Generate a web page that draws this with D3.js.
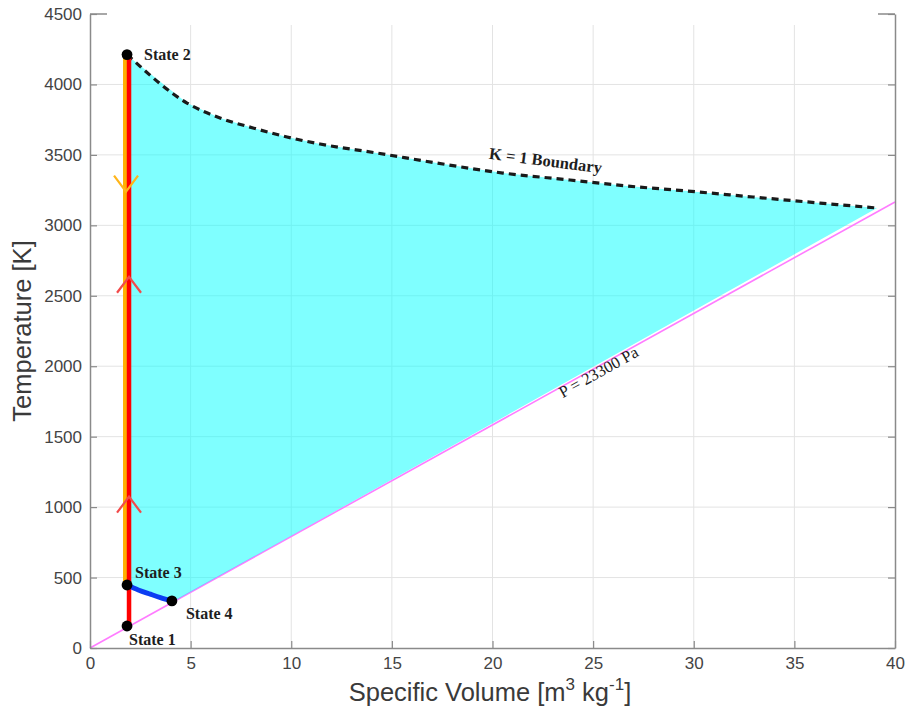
<!DOCTYPE html>
<html>
<head>
<meta charset="utf-8">
<script src="https://cdn.jsdelivr.net/npm/d3@7/dist/d3.min.js"></script>
<style>
  html, body { margin: 0; padding: 0; background: #fff; }
  svg { display: block; }
</style>
</head>
<body>
<svg id="chart" width="907" height="715"></svg>
<script>
// Cycle states: specific volume [m3/kg] and temperature [K]
const stateNames = ["State 1", "State 2", "State 3", "State 4"];
const stateV = [1.84, 1.84, 1.84, 4.07];
const stateT = [156, 4212, 447, 334];

// K = 1 boundary (dashed), from State 2 to the isobar
const boundaryV = [1.84, 2.14, 4.82, 6.46, 8.10, 9.79, 11.43, 14.26, 17.24, 20.52, 23.85, 26.68, 29.66, 32.94, 36.27, 39.11];
const boundaryT = [4212, 4173, 3868, 3762, 3691, 3627, 3577, 3513, 3442, 3371, 3322, 3279, 3244, 3201, 3158, 3123];

// Isobar P = 23300 Pa (straight line through the origin)
const isobarV = [0, 40];
const isobarT = [0, 3166];

// Expansion from State 3 to State 4
const expV = [1.84, 2.4, 3.0, 3.5, 4.07];
const expT = [447, 412, 382, 358, 334];

// Direction chevrons on the vertical legs
const upArrowT = [2635, 1074];   // red leg, pointing up
const downArrowT = [3239];       // orange leg, pointing down

const xTicks = [0, 5, 10, 15, 20, 25, 30, 35, 40];
const yTicks = [0, 500, 1000, 1500, 2000, 2500, 3000, 3500, 4000, 4500];

(function draw() {
const svg = d3.select("#chart");
const pL = 90, pR = 895, pT = 14, pB = 648;

const x = d3.scaleLinear().domain([0, 40]).range([pL, pR]);
const y = d3.scaleLinear().domain([0, 4500]).range([pB, pT]);

// grid
const grid = svg.append("g").attr("stroke", "#e3e3e3").attr("stroke-width", 1);
grid.selectAll("line.vx").data(xTicks.slice(1, -1)).join("line")
  .attr("x1", d => x(d)).attr("x2", d => x(d)).attr("y1", pT).attr("y2", pB);
grid.selectAll("line.hy").data(yTicks.slice(1, -1)).join("line")
  .attr("y1", d => y(d)).attr("y2", d => y(d)).attr("x1", pL).attr("x2", pR);

const line = d3.line().x(d => x(d[0])).y(d => y(d[1]));
const smooth = d3.line().curve(d3.curveMonotoneX).x(d => x(d[0])).y(d => y(d[1]));

// isobar
svg.append("path")
  .attr("d", line(isobarV.map((v, i) => [v, isobarT[i]])))
  .attr("fill", "none").attr("stroke", "#ff7cff").attr("stroke-width", 1.6);

// shaded region bounded by the two legs, the K = 1 boundary, the isobar and the expansion
const isoSlope = isobarT[1] / isobarV[1];
const region = []
  .concat(boundaryV.map((v, i) => [v, boundaryT[i]]))
  .concat([[stateV[3], stateV[3] * isoSlope]])
  .concat(expV.map((v, i) => [v, expT[i]]).reverse());
svg.append("path")
  .attr("d", line(region) + "Z")
  .attr("fill", "#00ffff").attr("fill-opacity", 0.5).attr("stroke", "none");

// K = 1 boundary
svg.append("path")
  .attr("d", smooth(boundaryV.map((v, i) => [v, boundaryT[i]])))
  .attr("fill", "none").attr("stroke", "#1a1a1a").attr("stroke-width", 3.2)
  .attr("stroke-dasharray", "7,5");

// vertical legs: orange 2 -> 3, red 1 -> 2
svg.append("path")
  .attr("d", line([[stateV[1], stateT[1]], [stateV[2], stateT[2]]]))
  .attr("transform", "translate(-2,0)")
  .attr("stroke", "#ffb000").attr("stroke-width", 4).attr("fill", "none");
svg.append("path")
  .attr("d", line([[stateV[0], stateT[0]], [stateV[1], stateT[1]]]))
  .attr("transform", "translate(2,0)")
  .attr("stroke", "#ff0000").attr("stroke-width", 4.5).attr("fill", "none");

// expansion 3 -> 4
svg.append("path")
  .attr("d", smooth(expV.map((v, i) => [v, expT[i]])))
  .attr("stroke", "#0b3df2").attr("stroke-width", 5).attr("fill", "none")
  .attr("stroke-linecap", "round");

// chevrons
function chevron(cx, cy, dir) {
  // dir = -1 points up, +1 points down
  return `M${cx - 12},${cy - dir * 16}L${cx},${cy}L${cx + 12},${cy - dir * 16}`;
}
svg.selectAll("path.up").data(upArrowT).join("path")
  .attr("d", d => chevron(x(stateV[0]) + 2, y(d), -1))
  .attr("fill", "none").attr("stroke", "#f24a4a").attr("stroke-width", 2.2);
svg.selectAll("path.down").data(downArrowT).join("path")
  .attr("d", d => chevron(x(stateV[1]) - 1, y(d), 1))
  .attr("fill", "none").attr("stroke", "#ffb51a").attr("stroke-width", 2.2);

// state markers
svg.selectAll("circle.st").data(stateV).join("circle")
  .attr("cx", d => x(d)).attr("cy", (d, i) => y(stateT[i])).attr("r", 5.4)
  .attr("fill", "#000");

// state labels
const labelDx = [2, 17, 8, 14];
const labelDy = [19, 5, -7, 18];
svg.selectAll("text.st").data(stateNames).join("text")
  .attr("x", (d, i) => x(stateV[i]) + labelDx[i])
  .attr("y", (d, i) => y(stateT[i]) + labelDy[i])
  .attr("font-family", "'Liberation Serif', 'Times New Roman', serif")
  .attr("font-weight", "bold").attr("font-size", 16).attr("fill", "#1e1e1e")
  .text(d => d);

// curve / line annotations
const bAt = 22.6, bT = 3357;
svg.append("text")
  .attr("transform", `translate(${x(bAt)},${y(bT) - 9}) rotate(7.4)`)
  .attr("text-anchor", "middle")
  .attr("font-family", "'Liberation Serif', 'Times New Roman', serif")
  .attr("font-weight", "bold").attr("font-size", 16.5).attr("fill", "#1e1e1e")
  .text("K = 1 Boundary");
const pAt = 25.3;
const angle = -Math.atan2(y(0) - y(isoSlope * 40), x(40) - x(0)) * 180 / Math.PI;
svg.append("text")
  .attr("transform", `translate(${x(pAt) + 2},${y(isoSlope * pAt) + 11}) rotate(${angle})`)
  .attr("text-anchor", "middle")
  .attr("font-family", "'Liberation Serif', 'Times New Roman', serif")
  .attr("font-size", 16.5).attr("fill", "#1e1e1e")
  .text("P = 23300 Pa");

// top band is left open apart from the corner stubs
svg.append("rect").attr("x", pL + 17).attr("y", pT - 2).attr("width", pR - pL - 34).attr("height", 13)
  .attr("fill", "#fff");

// axes
const axisColor = "#8a8a8a";
const tickFont = "'Liberation Sans', Arial, Helvetica, sans-serif";
const gx = svg.append("g").attr("transform", `translate(0,${pB})`)
  .call(d3.axisBottom(x).tickValues(xTicks).tickSize(-7).tickPadding(9).tickSizeOuter(0).tickFormat(d3.format("d")));
const gy = svg.append("g").attr("transform", `translate(${pL},0)`)
  .call(d3.axisLeft(y).tickValues(yTicks).tickSize(-7).tickPadding(8).tickSizeOuter(0).tickFormat(d3.format("d")));
const gr = svg.append("g").attr("transform", `translate(${pR},0)`)
  .call(d3.axisRight(y).tickValues(yTicks).tickSize(-7).tickSizeOuter(0).tickFormat(""));
[gx, gy, gr].forEach(g => {
  g.select(".domain").attr("stroke", axisColor).attr("stroke-width", 1.5);
  g.selectAll(".tick line").attr("stroke", axisColor).attr("stroke-width", 1.2);
  g.selectAll(".tick text").attr("fill", "#444").attr("font-family", tickFont).attr("font-size", 17);
});
// top corner stubs
svg.append("path")
  .attr("d", `M${pL},${pT}H${pL + 17}M${pR - 17},${pT}H${pR}`)
  .attr("stroke", axisColor).attr("stroke-width", 1.5).attr("fill", "none");

// axis titles
const xt = svg.append("text")
  .attr("x", 490).attr("y", 701).attr("text-anchor", "middle")
  .attr("font-family", tickFont).attr("font-size", 25.5).attr("fill", "#3a3a3a");
xt.append("tspan").text("Specific Volume [m");
xt.append("tspan").attr("font-size", 17).attr("dy", -11).text("3");
xt.append("tspan").attr("dy", 11).text(" kg");
xt.append("tspan").attr("font-size", 17).attr("dy", -11).text("-1");
xt.append("tspan").attr("dy", 11).text("]");

svg.append("text")
  .attr("transform", `translate(31,${(pT + pB) / 2}) rotate(-90)`)
  .attr("text-anchor", "middle")
  .attr("font-family", tickFont).attr("font-size", 25.5).attr("fill", "#3a3a3a")
  .text("Temperature [K]");
})();
</script>
</body>
</html>
